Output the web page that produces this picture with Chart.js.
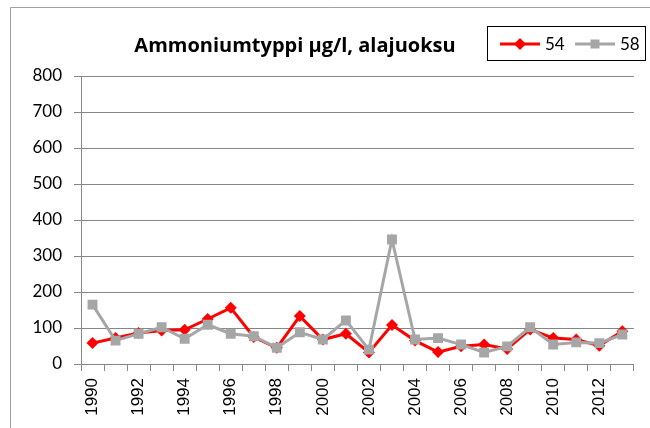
<!DOCTYPE html>
<html>
<head>
<meta charset="utf-8">
<script src="https://cdn.jsdelivr.net/npm/chart.js@4"></script>
<style>
  html, body { margin: 0; padding: 0; background: #fff; }
  #wrap { width: 650px; height: 428px; position: relative; }
</style>
</head>
<body>
<div id="wrap"><canvas id="kaavio" width="650" height="428"></canvas></div>
<script>
// Vuodet ja mittausarvot (luettu kuvasta)
const vuodet = ['1990','1991','1992','1993','1994','1995','1996','1997','1998','1999','2000','2001',
                '2002','2003','2004','2005','2006','2007','2008','2009','2010','2011','2012','2013'];
const sarja54 = [58, 72, 86, 93, 95, 125, 156, 75, 45, 133, 68, 84, 32, 108, 65, 33, 49, 54, 42, 96, 72, 68, 51, 91];
const sarja58 = [165, 65, 84, 102, 70, 109, 84, 77, 45, 88, 68, 121, 40, 346, 68, 72, 54, 32, 49, 102, 54, 60, 58, 82];
const yTikit = [0, 100, 200, 300, 400, 500, 600, 700, 800];

const otsikko = 'Ammoniumtyppi µg/l, alajuoksu';
const sarjaNimet = ['54', '58'];
const punainen = '#ff0000';
const harmaa = '#a6a6a6';

// Kehys, otsikko ja selite piirretään itse
const koristeet = {
    id: 'koristeet',
    beforeDraw(chart) {
        const ctx = chart.ctx;
        ctx.save();
        ctx.strokeStyle = '#a0a0a0';
        ctx.lineWidth = 1;
        ctx.beginPath();
        ctx.moveTo(10.5, 428);
        ctx.lineTo(10.5, 7.5);
        ctx.lineTo(650, 7.5);
        ctx.stroke();
        ctx.restore();
    },
    afterDraw(chart) {
        const ctx = chart.ctx;
        ctx.save();
        // otsikko
        ctx.fillStyle = '#000';
        ctx.font = 'bold 20px "Open Sans"';
        ctx.textAlign = 'center';
        ctx.textBaseline = 'alphabetic';
        ctx.fillText(otsikko, 295, 52);

        // selite
        ctx.strokeStyle = '#000';
        ctx.lineWidth = 1;
        ctx.strokeRect(487.5, 26.5, 158, 34);
        const kohteet = [
            { x: 500, vari: punainen, muoto: 'vinoneliö', teksti: sarjaNimet[0] },
            { x: 575, vari: harmaa, muoto: 'neliö', teksti: sarjaNimet[1] }
        ];
        kohteet.forEach(k => {
            ctx.strokeStyle = k.vari;
            ctx.lineWidth = 3;
            ctx.beginPath();
            ctx.moveTo(k.x, 44);
            ctx.lineTo(k.x + 40, 44);
            ctx.stroke();
            ctx.fillStyle = k.vari;
            const cx = k.x + 20;
            ctx.beginPath();
            if (k.muoto === 'vinoneliö') {
                ctx.moveTo(cx, 38); ctx.lineTo(cx + 6, 44); ctx.lineTo(cx, 50); ctx.lineTo(cx - 6, 44);
            } else {
                ctx.rect(cx - 4.5, 39.5, 9, 9);
            }
            ctx.closePath();
            ctx.fill();
            ctx.fillStyle = '#000';
            ctx.font = '17px Lato';
            ctx.textAlign = 'left';
            ctx.fillText(k.teksti, k.x + 45, 50);
        });
        ctx.restore();
    }
};

const ctx = document.getElementById('kaavio').getContext('2d');
new Chart(ctx, {
    type: 'line',
    data: {
        labels: vuodet,
        datasets: [{
            label: sarjaNimet[0],
            data: sarja54,
            borderColor: punainen,
            backgroundColor: punainen,
            borderWidth: 3,
            pointStyle: 'rectRot',
            pointRadius: 6,
            pointBorderWidth: 0,
            tension: 0,
            order: 1
        }, {
            label: sarjaNimet[1],
            data: sarja58,
            borderColor: harmaa,
            backgroundColor: harmaa,
            borderWidth: 3,
            pointStyle: 'rect',
            pointRadius: 7,
            pointBorderWidth: 0,
            tension: 0,
            order: 0
        }]
    },
    options: {
        responsive: false,
        animation: false,
        layout: { padding: { top: 76, right: 13, bottom: 0, left: 0 } },
        plugins: {
            legend: { display: false },
            title: { display: false },
            tooltip: { enabled: false }
        },
        scales: {
            x: {
                type: 'category',
                offset: true,
                grid: { offset: true, drawOnChartArea: false, tickLength: 7, color: '#868686' },
                border: { color: '#868686' },
                ticks: {
                    autoSkip: false,
                    minRotation: 90,
                    maxRotation: 90,
                    padding: 7,
                    color: '#000',
                    font: { family: 'Liberation Sans', size: 17 },
                    callback: function (v, i) { return i % 2 === 0 ? vuodet[i] : ''; }
                },
                afterFit(scale) { scale.height = 64; }
            },
            y: {
                min: 0,
                max: 800,
                afterBuildTicks(scale) { scale.ticks = yTikit.map(v => ({ value: v })); },
                grid: { color: '#868686', tickLength: 7 },
                border: { color: '#868686' },
                ticks: {
                    padding: 12,
                    color: '#000',
                    font: { family: 'Lato', size: 17 }
                },
                afterFit(scale) { scale.width = 81; }
            }
        }
    },
    plugins: [koristeet]
});
</script>
</body>
</html>
